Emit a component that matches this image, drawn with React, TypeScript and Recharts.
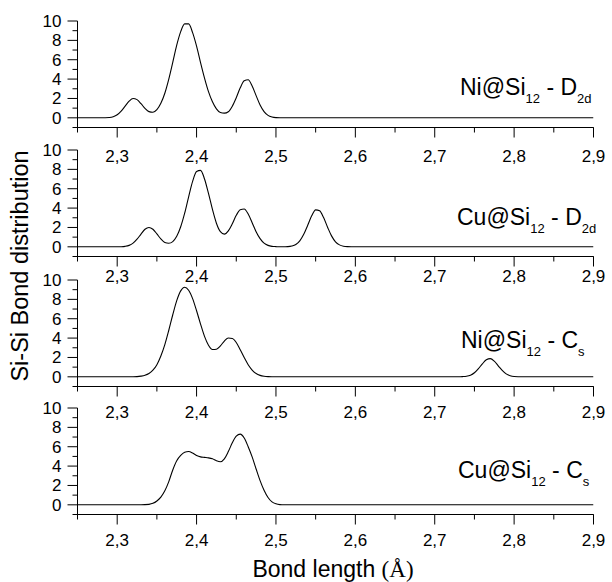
import React from 'react';
import { LineChart, Line, XAxis, YAxis, ReferenceLine } from 'recharts';

// bond length (Å) / distribution, one pair of arrays per cluster
const niD2dX = [2.25, 2.28, 2.29, 2.295, 2.3, 2.305, 2.31, 2.315, 2.32, 2.325, 2.33, 2.335, 2.34, 2.345, 2.35, 2.355, 2.36, 2.365, 2.37, 2.375, 2.38, 2.385, 2.39, 2.395, 2.4, 2.405, 2.41, 2.415, 2.42, 2.425, 2.43, 2.435, 2.44, 2.445, 2.45, 2.455, 2.46, 2.465, 2.47, 2.475, 2.48, 2.485, 2.49, 2.495, 2.5, 2.51, 2.9];
const niD2dY = [0, 0, 0.04, 0.12, 0.32, 0.7, 1.21, 1.72, 2.0, 1.88, 1.46, 0.97, 0.64, 0.58, 0.85, 1.5, 2.54, 4.0, 5.73, 7.5, 8.9, 9.7, 9.7, 8.8, 7.4, 5.7, 4.1, 2.7, 1.65, 0.92, 0.54, 0.48, 0.63, 1.2, 2.08, 3.1, 3.82, 3.93, 3.28, 2.29, 1.32, 0.64, 0.25, 0.08, 0.02, 0, 0];

const cuD2dX = [2.25, 2.3, 2.305, 2.31, 2.315, 2.32, 2.325, 2.33, 2.335, 2.34, 2.345, 2.35, 2.355, 2.36, 2.365, 2.37, 2.375, 2.38, 2.385, 2.39, 2.395, 2.4, 2.405, 2.41, 2.415, 2.42, 2.425, 2.43, 2.435, 2.44, 2.445, 2.45, 2.455, 2.46, 2.465, 2.47, 2.475, 2.48, 2.485, 2.49, 2.495, 2.5, 2.505, 2.51, 2.515, 2.52, 2.525, 2.53, 2.535, 2.54, 2.545, 2.55, 2.555, 2.56, 2.565, 2.57, 2.575, 2.58, 2.585, 2.59, 2.6, 2.9];
const cuD2dY = [0, 0, 0.01, 0.05, 0.15, 0.38, 0.79, 1.32, 1.81, 2.0, 1.81, 1.33, 0.81, 0.45, 0.37, 0.54, 1.08, 2.07, 3.47, 5.17, 6.76, 7.78, 7.9, 7.01, 5.52, 3.86, 2.44, 1.56, 1.31, 1.65, 2.38, 3.25, 3.83, 3.9, 3.38, 2.49, 1.56, 0.84, 0.38, 0.15, 0.05, 0.02, 0, 0.01, 0.02, 0.08, 0.24, 0.62, 1.29, 2.23, 3.2, 3.82, 3.72, 3.02, 2.03, 1.13, 0.52, 0.2, 0.06, 0.02, 0, 0];

const niCsX = [2.25, 2.32, 2.33, 2.335, 2.34, 2.345, 2.35, 2.355, 2.36, 2.365, 2.37, 2.375, 2.38, 2.385, 2.39, 2.395, 2.4, 2.405, 2.41, 2.415, 2.42, 2.425, 2.43, 2.435, 2.44, 2.445, 2.45, 2.455, 2.46, 2.465, 2.47, 2.475, 2.48, 2.485, 2.49, 2.5, 2.73, 2.735, 2.74, 2.745, 2.75, 2.755, 2.76, 2.765, 2.77, 2.775, 2.78, 2.785, 2.79, 2.795, 2.8, 2.81, 2.9];
const niCsY = [0, 0, 0.07, 0.16, 0.34, 0.68, 1.25, 2.15, 3.33, 4.81, 6.41, 7.87, 8.88, 9.25, 8.94, 8.08, 6.82, 5.45, 4.18, 3.27, 2.82, 2.85, 3.2, 3.69, 4.01, 3.96, 3.55, 2.8, 1.99, 1.25, 0.7, 0.34, 0.15, 0.06, 0.02, 0, 0, 0.02, 0.06, 0.17, 0.42, 0.84, 1.34, 1.76, 1.88, 1.62, 1.14, 0.66, 0.3, 0.12, 0.04, 0, 0];

const cuCsX = [2.25, 2.33, 2.34, 2.345, 2.35, 2.355, 2.36, 2.365, 2.37, 2.375, 2.38, 2.385, 2.39, 2.395, 2.4, 2.405, 2.41, 2.415, 2.42, 2.425, 2.43, 2.435, 2.44, 2.445, 2.45, 2.455, 2.46, 2.465, 2.47, 2.475, 2.48, 2.485, 2.49, 2.495, 2.5, 2.505, 2.51, 2.9];
const cuCsY = [0, 0, 0.05, 0.15, 0.4, 0.8, 1.45, 2.4, 3.6, 4.55, 5.1, 5.42, 5.5, 5.35, 5.1, 4.95, 4.9, 4.85, 4.75, 4.55, 4.45, 4.75, 5.5, 6.4, 7.1, 7.3, 6.9, 6.0, 4.95, 3.7, 2.5, 1.5, 0.75, 0.3, 0.1, 0.02, 0, 0];

const xTicks = [2.25, 2.3, 2.35, 2.4, 2.45, 2.5, 2.55, 2.6, 2.65, 2.7, 2.75, 2.8, 2.85, 2.9];
const xMajor = [2.3, 2.4, 2.5, 2.6, 2.7, 2.8, 2.9];
const yTicks = [-1, 0, 1, 2, 3, 4, 5, 6, 7, 8, 9, 10];
const yMajor = [0, 2, 4, 6, 8, 10];

const metals = ['Ni', 'Cu', 'Ni', 'Cu'];
const symmetry = [['D', '2d'], ['D', '2d'], ['C', 's'], ['C', 's']];

const series = [
  [niD2dX, niD2dY],
  [cuD2dX, cuD2dY],
  [niCsX, niCsY],
  [cuCsX, cuCsY],
];

// layout
const W = 612;
const plotLeft = 77.5;
const plotRight = 593.5;
const plotH = 106.5;
const panelTop = [20.5, 150, 279.5, 407.5];
const labelOffset = [34, 25, 31, 31];
const nameX = [460, 457, 461, 458];
const nameY = [95, 225, 348, 478];
const pad = 15;
const chartH = 175;
const xAxisH = 30;
const yAxisW = 60;

const ink = '#000';
const font = 'Arial, "Liberation Sans", Helvetica, sans-serif';

const fmt = (v: number) => v.toFixed(1).replace('.', ',');

function XTick(props: any) {
  const { x, y, payload, offset } = props;
  const v = payload.value;
  const major = xMajor.some((m) => Math.abs(m - v) < 1e-6);
  return (
    <g>
      <line x1={x} x2={x} y1={y} y2={y + (major ? 10 : 5)} stroke={ink} strokeWidth={1} />
      {major && (
        <text x={x} y={y + offset} textAnchor="middle" fontSize={17} fontFamily={font} fill={ink}>
          {fmt(v)}
        </text>
      )}
    </g>
  );
}

function YTick(props: any) {
  const { x, y, payload } = props;
  const v = payload.value;
  const major = yMajor.includes(v);
  return (
    <g>
      <line x1={x - (major ? 10 : 5)} x2={x} y1={y} y2={y} stroke={ink} strokeWidth={1} />
      {major && (
        <text x={x - 16} y={y + 6} textAnchor="end" fontSize={17} fontFamily={font} fill={ink}>
          {v}
        </text>
      )}
    </g>
  );
}

function Panel({ i }: { i: number }) {
  const [xs, ys] = series[i];
  const data = xs.map((x, k) => ({ x, v: ys[k] }));
  return (
    <div style={{ position: 'absolute', left: 0, top: panelTop[i] - pad }}>
      <LineChart
        width={W}
        height={chartH}
        data={data}
        margin={{ top: pad, right: W - plotRight, bottom: chartH - pad - plotH - xAxisH, left: plotLeft - yAxisW }}
      >
        <XAxis
          type="number"
          dataKey="x"
          domain={[2.25, 2.9]}
          ticks={xTicks}
          interval={0}
          height={xAxisH}
          tickSize={0}
          tickMargin={0}
          axisLine={{ stroke: ink, strokeWidth: 1 }}
          tickLine={false}
          tick={<XTick offset={labelOffset[i]} />}
          allowDataOverflow
        />
        <YAxis
          type="number"
          domain={[-1, 10]}
          ticks={yTicks}
          interval={0}
          width={yAxisW}
          tickSize={0}
          tickMargin={0}
          axisLine={{ stroke: ink, strokeWidth: 1 }}
          tickLine={false}
          tick={<YTick />}
          allowDataOverflow
        />
        {/* bottom frame line at the domain floor */}
        <ReferenceLine y={-1} stroke={ink} strokeWidth={1} />
        <Line
          type="monotone"
          dataKey="v"
          stroke={ink}
          strokeWidth={1.1}
          dot={false}
          isAnimationActive={false}
        />
      </LineChart>
    </div>
  );
}

export default function App() {
  return (
    <div style={{ position: 'absolute', left: 0, top: 0, width: W, height: 582, background: '#fff', overflow: 'hidden' }}>
      {[0, 1, 2, 3].map((i) => (
        <Panel key={i} i={i} />
      ))}
      <svg width={W} height={582} style={{ position: 'absolute', left: 0, top: 0, pointerEvents: 'none' }}>
        {metals.map((m, i) => (
          <text key={i} x={nameX[i]} y={nameY[i]} fontSize={23} fontFamily={font} fill={ink}>
            {m}@Si
            <tspan fontSize={13} dy={8}>12</tspan>
            <tspan dy={-8}> - {symmetry[i][0]}</tspan>
            <tspan fontSize={13} dy={8}>{symmetry[i][1]}</tspan>
          </text>
        ))}
        <text
          x={28}
          y={266}
          transform="rotate(-90, 28, 266)"
          textAnchor="middle"
          fontSize={23.5}
          fontFamily={font}
          fill={ink}
        >
          Si-Si Bond distribution
        </text>
        <text x={333} y={577} textAnchor="middle" fontSize={23} fontFamily={font} fill={ink}>
          Bond length <tspan fontFamily='"Liberation Serif", "DejaVu Serif", serif'>(Å)</tspan>
        </text>
      </svg>
    </div>
  );
}
